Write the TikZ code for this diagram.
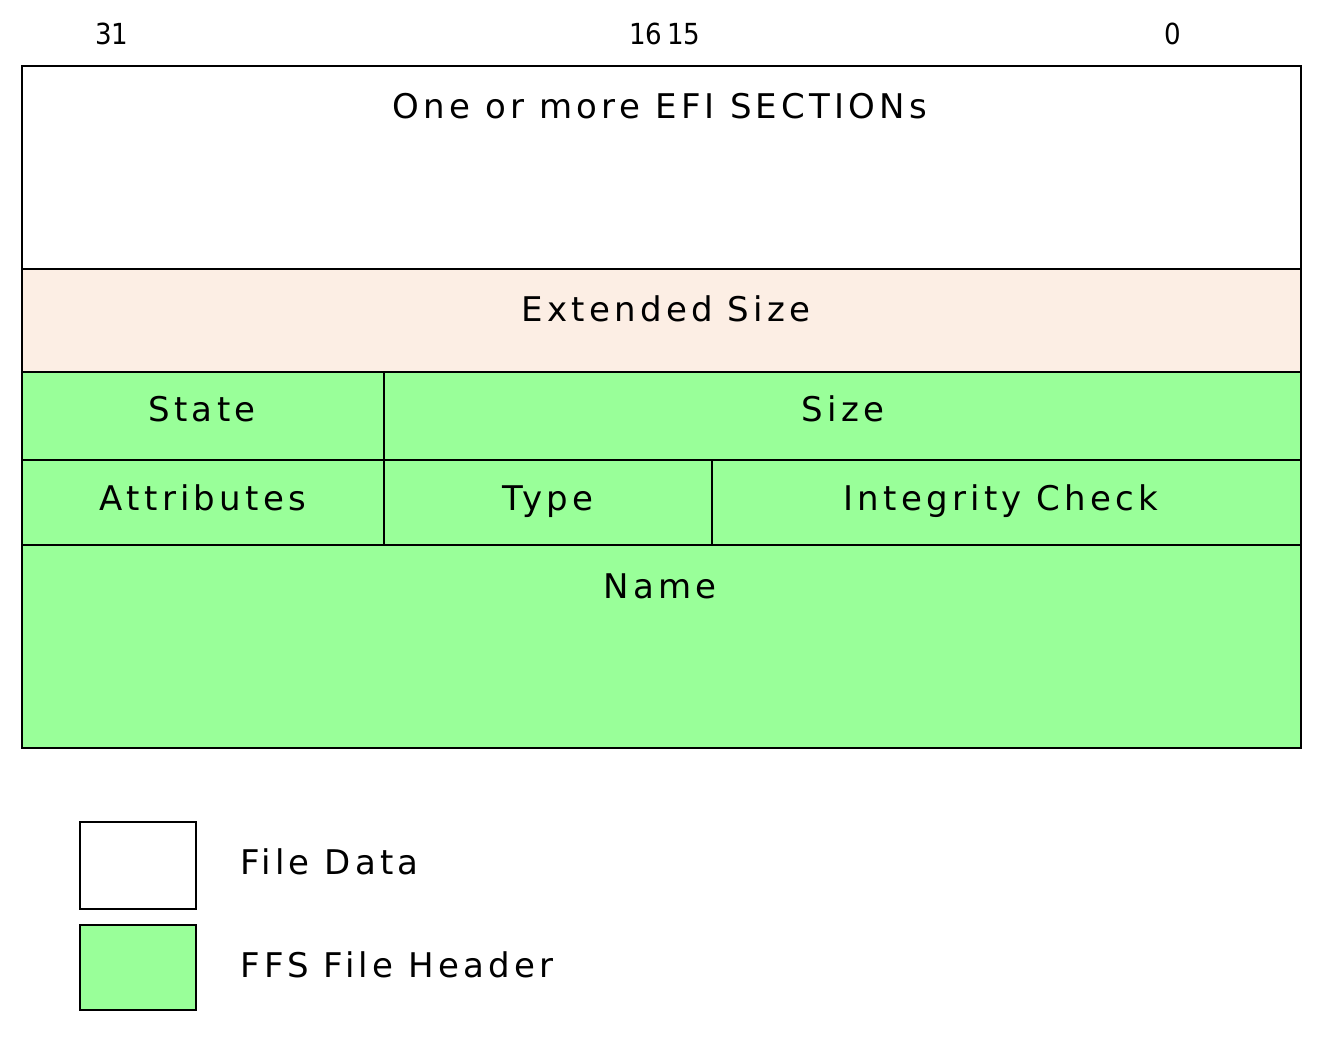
\documentclass[tikz,border=0pt]{standalone}
\usepackage{fontspec}
\setmainfont[LetterSpace=12.5]{DejaVu Sans}
\newfontfamily\numfont{DejaVu Sans Condensed}
\definecolor{hdrgreen}{HTML}{99FF99}
\definecolor{peach}{HTML}{FCEEE4}
\begin{document}
\begin{tikzpicture}[x=1pt,y=-1pt,
  cell/.style={draw=black,line width=2.4pt},
  lbl/.style={font=\fontsize{34}{40}\selectfont,inner sep=0pt,anchor=base},
  num/.style={font=\numfont\fontsize{29}{34}\selectfont,inner sep=0pt,anchor=base}]
\useasboundingbox (0,0) rectangle (1327,1038);
% cells
\path[cell,fill=white] (22,66) rectangle (1301,269);
\path[cell,fill=peach] (22,269) rectangle (1301,372);
\path[cell,fill=hdrgreen] (22,372) rectangle (384,460);
\path[cell,fill=hdrgreen] (384,372) rectangle (1301,460);
\path[cell,fill=hdrgreen] (22,460) rectangle (384,545);
\path[cell,fill=hdrgreen] (384,460) rectangle (712,545);
\path[cell,fill=hdrgreen] (712,460) rectangle (1301,545);
\path[cell,fill=hdrgreen] (22,545) rectangle (1301,748);
% bit numbers
\node[num] (b31) at (112,45) {31};
\node[num] (b16) at (665,45) {16\,15};
\node[num] (b0) at (1173,45) {0};
% labels
\node[lbl] (efi) at (660,118) {One or more EFI SECTIONs};
\node[lbl] (ext) at (666,321) {Extended Size};
\node[lbl] (state) at (202,421) {State};
\node[lbl] (size) at (843,421) {Size};
\node[lbl] (attr) at (203,510) {Attributes};
\node[lbl] (type) at (548,510) {Type};
\node[lbl] (integ) at (1001,510) {Integrity Check};
\node[lbl] (name) at (660,598) {Name};
% legend
\path[cell,fill=white] (80,822) rectangle (196,909);
\path[cell,fill=hdrgreen] (80,925) rectangle (196,1010);
\node[lbl,anchor=base west] (fd) at (240,874) {File Data};
\node[lbl,anchor=base west] (ffs) at (240,977) {FFS File Header};
\end{tikzpicture}
\end{document}
